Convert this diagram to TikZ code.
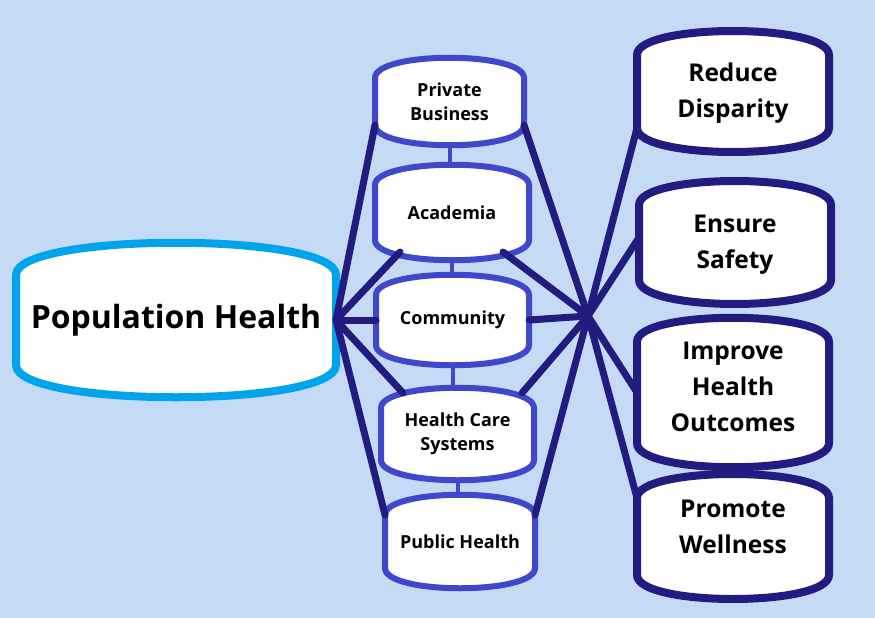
\documentclass[tikz,border=0pt]{standalone}
\usepackage{fontspec}
\setmainfont{Open Sans}
\usepackage{tikz}
\usetikzlibrary{backgrounds}

\definecolor{bgblue}{RGB}{197,218,245}
\definecolor{popcyan}{RGB}{0,164,236}
\definecolor{sectorblue}{RGB}{63,72,204}
\definecolor{goalnavy}{RGB}{35,28,128}

% barrel outline round a node: name, rise of the caps, style
\newcommand{\barrel}[3]{%
    \draw[#3] (#1.north west)
        .. controls ([yshift=#2]#1.north west) and ([yshift=#2]#1.north east) .. (#1.north east)
        -- (#1.south east)
        .. controls ([yshift=-#2]#1.south east) and ([yshift=-#2]#1.south west) .. (#1.south west)
        -- cycle;}

\tikzset{
    box/.style={inner sep=0pt, outer sep=0pt, align=center, font=\bfseries},
    popbox/.style={box, font=\bfseries\fontsize{32}{38}\selectfont},
    sectorbox/.style={box, font=\bfseries\fontsize{18}{24}\selectfont},
    goalbox/.style={box, font=\bfseries\fontsize{24.5}{36}\selectfont},
    link/.style={line width=7pt, goalnavy, line cap=round},
}

\begin{document}
\begin{tikzpicture}[x=1pt, y=-1pt]
        \useasboundingbox (0,0) rectangle (875,618);

        \node[popbox, minimum width=320pt, minimum height=90pt] (pop) at (176,320) {Population Health};

        \node[sectorbox, minimum width=149pt, minimum height=47pt] (busi) at (449.5,101.5) {Private\\Business};
        \node[sectorbox, minimum width=154pt, minimum height=55pt] (acad) at (452,212.5) {Academia};
        \node[sectorbox, minimum width=153pt, minimum height=50pt] (comm) at (452.5,320) {Community};
        \node[sectorbox, minimum width=153pt, minimum height=52pt] (care) at (457.5,434) {Health Care\\Systems};
        \node[sectorbox, minimum width=150pt, minimum height=53pt] (publ) at (460,541.5) {Public Health};

        \node[goalbox, minimum width=192pt, minimum height=73pt, text depth=2pt] (disp) at (733,91.5) {Reduce\\Disparity};
        \node[goalbox, minimum width=192pt, minimum height=75pt, text depth=2pt] (safe) at (735,242.5) {Ensure\\Safety};
        \node[goalbox, minimum width=192pt, minimum height=75pt, text depth=12pt] (outc) at (733,392.5) {Improve\\Health\\Outcomes};
        \node[goalbox, minimum width=192pt, minimum height=77pt, text depth=20pt] (well) at (733,536.5) {Promote\\Wellness};

        \coordinate (hub) at (588,316);

        \begin{scope}[on background layer]
            \fill[bgblue] (0,0) rectangle (875,618);
            \foreach \a/\b in {busi/acad, acad/comm, comm/care, care/publ}
                {\draw[line width=4pt, sectorblue] (\a.south) -- (\a.south |- \b.north);}
            \barrel{pop}{43pt}{line width=8pt, popcyan, fill=white}
            \foreach \n in {busi, acad, comm, care, publ}
                {\barrel{\n}{27pt}{line width=6pt, sectorblue, fill=white}}
            \foreach \n in {disp, safe, outc, well}
                {\barrel{\n}{32pt}{line width=8pt, goalnavy, fill=white}}
        \end{scope}

        % sectors to population health
        \draw[link] (pop.east) -- (busi.south west);
        \draw[link] (pop.east) -- ([xshift=25pt, yshift=-12pt]acad.south west);
        \draw[link] (pop.east) -- (comm.west);
        \draw[link] (pop.east) -- ([xshift=22pt, yshift=15pt]care.north west);
        \draw[link] (pop.east) -- (publ.north west);

        % sectors to goals
        \draw[link] (busi.south east) -- (hub);
        \draw[link] ([xshift=-26pt, yshift=-12pt]acad.south east) -- (hub);
        \draw[link] (comm.east) -- (hub);
        \draw[link] ([xshift=-12pt, yshift=15pt]care.north east) -- (hub);
        \draw[link] (publ.north east) -- (hub);

        \draw[link] (hub) -- (disp.south west);
        \draw[link] (hub) -- ([yshift=5pt]safe.west);
        \draw[link] (hub) -- (outc.west);
        \draw[link] (hub) -- (well.north west);
    \end{tikzpicture}
\end{document}
